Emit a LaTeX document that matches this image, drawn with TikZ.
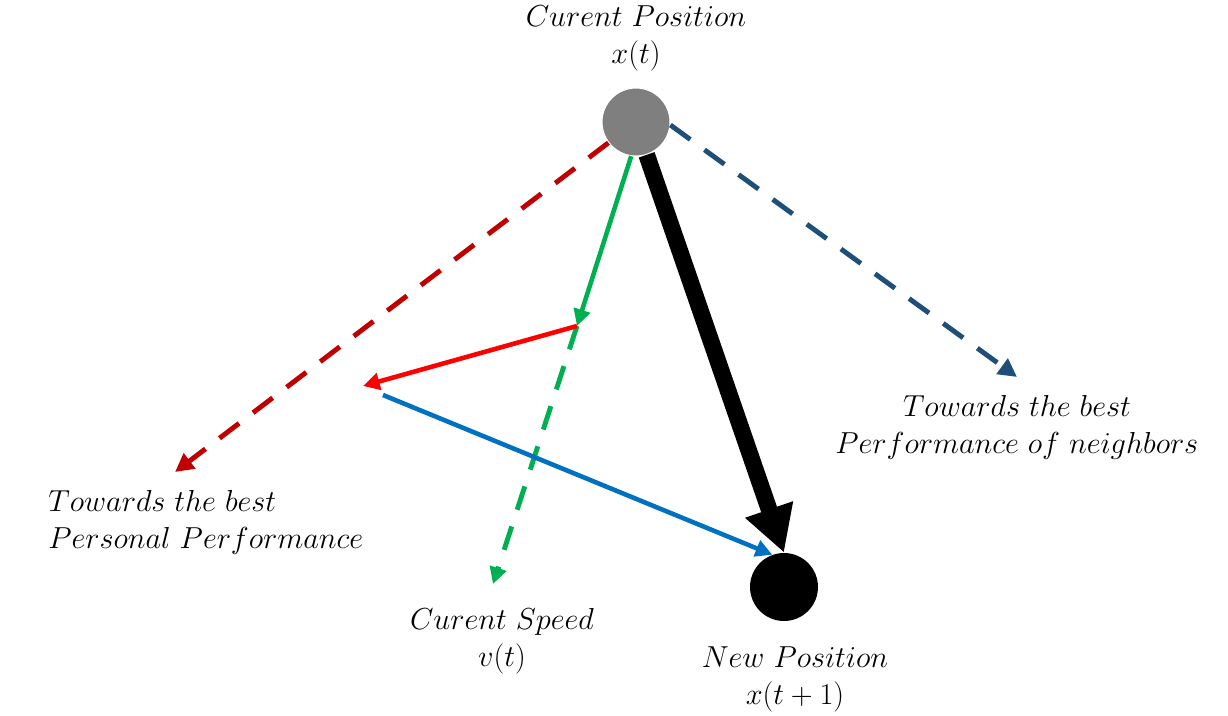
\documentclass[tikz,border=0pt]{standalone}
\usepackage{xcolor,tikz}
\usetikzlibrary{positioning,calc,arrows.meta}
\definecolor{psoGreyFill}{HTML}{7F7F7F}
\definecolor{psoDarkRed}{HTML}{C00000}
\definecolor{psoDarkBlue}{HTML}{1F4E79}
\definecolor{psoGreen}{HTML}{00B050}
\definecolor{psoRed}{HTML}{FF0000}
\definecolor{psoBlue}{HTML}{0070C0}
\tikzset{
  pso label/.style={
    font=\fontsize{17}{21}\selectfont, align=center, inner sep=0pt,
  },
  pso dash/.style={
    dash pattern=on 14pt off 10pt, line width=2.8pt,
    -{Triangle[length=10.5pt, width=10.5pt]},
  },
  pso move/.style={
    line width=2.6pt,
    -{Triangle[length=9.5pt, width=9.5pt]},
  },
}

\begin{document}
\begin{tikzpicture}[x=0.02cm, y=-0.02cm]
\useasboundingbox (0,0) rectangle (1228,716);

% --- particles ---
\node[circle, fill=psoGreyFill, draw=white, line width=0.6pt,
  minimum size=1.36cm, inner sep=0pt] (cur) at (636,122) {};
\node[circle, fill=black, minimum size=1.36cm, inner sep=0pt] (new) at (784,587) {};

% --- end points ---
\coordinate (pbest) at (175,472);
\coordinate (nbest) at (1017,377);
\coordinate (vmid)  at (577,326);
\coordinate (vend)  at (493,584);
\coordinate (pmid)  at (363,386);
\coordinate (bstart) at (383,395);

% --- arrows ---
\draw[pso dash, color=psoDarkRed] (cur.217) -- (pbest);
\draw[pso dash, color=psoDarkBlue] (cur.-5) -- (nbest);
\draw[pso move, color=psoGreen] (cur.-98) -- (vmid);
\draw[pso dash, color=psoGreen, -{Triangle[length=9.5pt, width=9.5pt]}] (vmid) -- (vend);
\draw[pso move, color=psoRed] (vmid) -- (pmid);
\draw[pso move, color=psoBlue] (bstart) -- (new.110);
\draw[line width=9.5pt, -{Triangle[length=26pt, width=27pt]}] (cur.-72) -- (new.north);

% --- labels ---
\node[pso label] (lcur) at (636,38) {$Curent\ Position$\\$x(t)$};
\node[pso label] (lnbest) at (1017,427) {$Towards\ the\ best$\\$Performance\ of\ neighbors$};
\node[pso label, anchor=west, align=left] (lpbest) at (48,522) {$Towards\ the\ best$\\$Personal\ Performance$};
\node[pso label] (lspeed) at (502,641) {$Curent\ Speed$\\$v(t)$};
\node[pso label] (lnew) at (795,679) {$New\ Position$\\$x(t+1)$};

\end{tikzpicture}
\end{document}
